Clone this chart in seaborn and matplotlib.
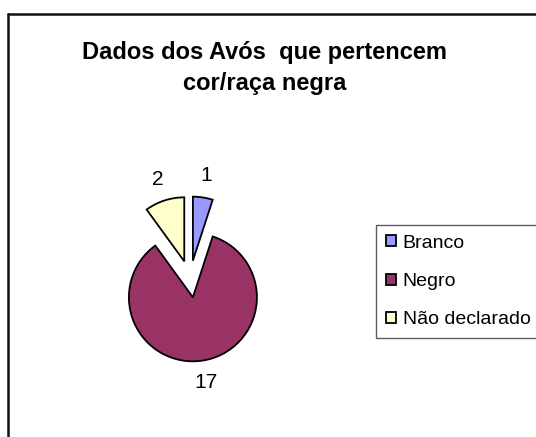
import matplotlib
matplotlib.use("Agg")
import matplotlib.pyplot as plt
import seaborn as sns
from matplotlib.lines import Line2D

# data
categories = ["Branco", "Negro", "Não declarado"]
counts = [1, 17, 2]
slice_colors = ["#9999FF", "#993366", "#FFFFCC"]
title_text = "Dados dos Avós  que pertencem\ncor/raça negra"

sns.set_theme(style="white")
plt.rcParams["font.family"] = ["Liberation Sans", "DejaVu Sans"]
plt.rcParams["text.color"] = "black"

W, H = 536, 437
fig = plt.figure(figsize=(W / 100, H / 100), dpi=100)

# axes covering the whole figure, 1 data unit = pie radius in pixels
cx, cy, r = 190, 279, 64
ax = fig.add_axes([0, 0, 1, 1])
wedges, texts = ax.pie(
    counts,
    colors=sns.color_palette(slice_colors),
    labels=[str(c) for c in counts],
    startangle=90,
    counterclock=False,
    explode=[0.29, 0.29, 0.29],
    labeldistance=1.34,
    wedgeprops=dict(edgecolor="black", linewidth=1.3),
    textprops=dict(fontsize=15, color="black"),
)
for t in texts:
    t.set_horizontalalignment("center")
    t.set_verticalalignment("center")
ax.set_xlim(-cx / r, (W - cx) / r)
ax.set_ylim(-(H - cy) / r, cy / r)
ax.set_aspect("equal")
ax.axis("off")

fig.text(265 / W, 1 - 68 / H, title_text, ha="center", va="center",
         fontsize=17, fontweight="bold", linespacing=1.45, color="black")

leg = fig.legend(wedges, categories, loc="upper left",
                 bbox_to_anchor=(376 / W, 1 - 225 / H),
                 fontsize=14, frameon=True, fancybox=False,
                 handlelength=0.52, handleheight=0.52, handletextpad=0.35,
                 labelspacing=1.1, borderpad=0.5, borderaxespad=0)
leg.get_frame().set_edgecolor("#333333")
leg.get_frame().set_linewidth(1.0)
for txt in leg.get_texts():
    txt.set_color("black")

# outer chart frame (left and top edges visible)
fig.add_artist(Line2D([8 / W, 8 / W], [0, 1 - 14 / H], transform=fig.transFigure,
                      color="#111111", linewidth=1.8))
fig.add_artist(Line2D([8 / W, 1], [1 - 14 / H, 1 - 14 / H], transform=fig.transFigure,
                      color="#111111", linewidth=1.8))

fig.savefig("out.png", dpi=100)
